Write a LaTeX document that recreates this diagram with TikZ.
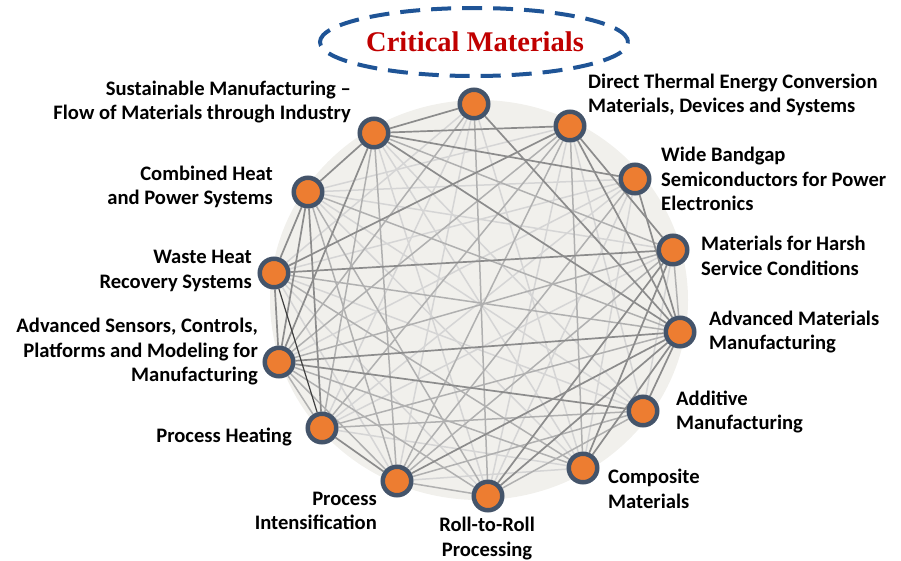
\documentclass[tikz,border=0pt]{standalone}
\usepackage{fontspec}
\setmainfont{Carlito}
\newfontfamily\titlefont{Liberation Serif}
\definecolor{nodefill}{HTML}{ED7D31}
\definecolor{noderim}{HTML}{44546A}
\definecolor{disc}{HTML}{F1F0EC}
\definecolor{titlered}{HTML}{C00000}
\definecolor{ringblue}{HTML}{1F5496}
\definecolor{edark}{HTML}{8C8C8C}
\definecolor{emid}{HTML}{B0B0B0}
\definecolor{elight}{HTML}{D5D5D5}
\pgfdeclarelayer{disclayer}
\pgfdeclarelayer{edgelayer}
\pgfsetlayers{disclayer,edgelayer,main}
\tikzset{
  topic/.style={circle, fill=nodefill, draw=noderim, line width=4.5pt, minimum size=28.5pt, inner sep=0pt},
  lbl/.style={inner sep=0pt, font=\bfseries\fontsize{20.6}{24.5}\selectfont},
  lblL/.style={lbl, anchor=west, align=left},
  lblR/.style={lbl, anchor=east, align=right},
  ed/.style={draw=edark, line width=1.7pt},
  em/.style={draw=emid, line width=1.5pt},
  el/.style={draw=elight, line width=1.5pt},
  einner/.style={draw=black!75, line width=1.2pt}
}
\begin{document}
\begin{tikzpicture}[x=1pt,y=-1pt]
\useasboundingbox (0,0) rectangle (901,560);

% title with dashed ring
\node[font=\titlefont\bfseries\fontsize{28.5}{30}\selectfont, text=titlered] (title) at (475,42) {Critical Materials};
\draw[ringblue, line width=4pt, dash pattern=on 20pt off 11pt] (474,42) ellipse [x radius=154pt, y radius=34pt];

% topic nodes around the ring
\node[topic] (T)  at (474,104) {};
\node[topic] (S)  at (374,133) {};
\node[topic] (D)  at (570,126) {};
\node[topic] (C)  at (308,192) {};
\node[topic] (W)  at (635,179) {};
\node[topic] (H)  at (274,273) {};
\node[topic] (R)  at (673,250) {};
\node[topic] (A)  at (279,362) {};
\node[topic] (M)  at (680,332) {};
\node[topic] (P)  at (322,428) {};
\node[topic] (Ad) at (643,411) {};
\node[topic] (I)  at (397,481) {};
\node[topic] (RR) at (488,496) {};
\node[topic] (Co) at (583,468) {};

% labels
\node[lblR] (lS)  at (351,102) {Sustainable Manufacturing –\\Flow of Materials through Industry};
\node[lblL] (lD)  at (588,95)  {Direct Thermal Energy Conversion\\Materials, Devices and Systems};
\node[lblR] (lC)  at (273,187) {Combined Heat\\and Power Systems};
\node[lblL] (lW)  at (661,179) {Wide Bandgap\\Semiconductors for Power\\Electronics};
\node[lblR] (lH)  at (252,271) {Waste Heat\\Recovery Systems};
\node[lblL] (lR)  at (701,256) {Materials for Harsh\\Service Conditions};
\node[lblR] (lA)  at (258,352) {Advanced Sensors, Controls,\\Platforms and Modeling for\\Manufacturing};
\node[lblL] (lM)  at (709,332) {Advanced Materials\\Manufacturing};
\node[lblR] (lP)  at (292,437) {Process Heating};
\node[lblL] (lAd) at (676,412) {Additive\\Manufacturing};
\node[lblR] (lI)  at (377,511) {Process\\Intensification};
\node[lbl, align=center] (lRR) at (487,538.5) {Roll-to-Roll\\Processing};
\node[lblL] (lCo) at (608,489) {Composite\\Materials};

% shaded disc behind the network
\begin{pgfonlayer}{disclayer}
  \fill[disc] (479,300) ellipse [x radius=209pt, y radius=200pt];
\end{pgfonlayer}

% links between topics
\begin{pgfonlayer}{edgelayer}
  \foreach \a/\b in {S/RR, S/Co, S/Ad, C/Co, C/Ad, C/R, D/RR, D/Ad, D/C,
                     T/P, T/I, T/Co, W/P, W/RR, W/Co, W/H, R/P, R/Ad,
                     H/I, H/RR, H/Ad, C/W, T/H, P/Co, I/Co, A/W}
    \draw[el] (\a) -- (\b);
  \foreach \a/\b in {S/R, S/P, S/I, C/I, C/RR, D/P, D/I, D/Co, D/A,
                     W/I, R/A, R/I, M/P, M/H, Ad/RR, Ad/P, A/RR, A/Co,
                     H/Co, T/RR, M/C, T/A, A/I, R/M, RR/I, A/P, Ad/I}
    \draw[em] (\a) -- (\b);
  \foreach \a/\b in {T/S, S/D, S/C, S/M, S/W, S/A, C/H, C/A, C/P, D/H,
                     H/R, A/M, A/Ad, P/I, D/R, D/M, T/M, RR/M, RR/R,
                     Co/M, Co/R, Ad/M, W/M, H/A, I/M}
    \draw[ed] (\a) -- (\b);
  \draw[einner] (H) -- (P);
\end{pgfonlayer}
\end{tikzpicture}
\end{document}
